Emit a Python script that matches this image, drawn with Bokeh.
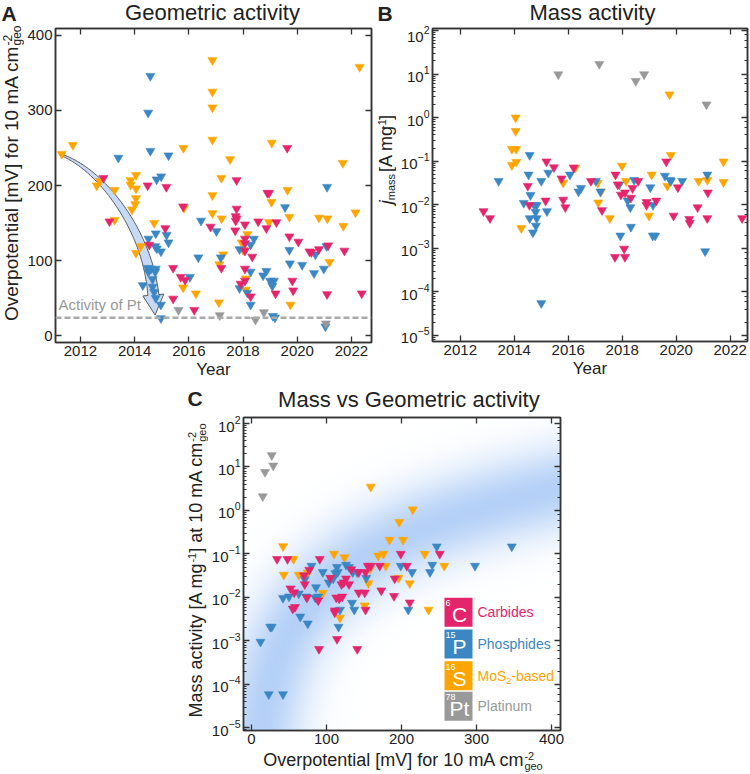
import numpy as np
from bokeh.plotting import figure
from bokeh.models import Label, Span, LinearAxis, LogAxis, FixedTicker, Spacer
from bokeh.layouts import column, row
from bokeh.embed import file_html
from bokeh.resources import INLINE

# ---------------------------------------------------------------- data
year_ticks = [2012, 2014, 2016, 2018, 2020, 2022]
eta_ticks = [0, 100, 200, 300, 400]
pt_activity_mv = 23.6

categories = ["Carbides", "Phosphides", "MoS2-based", "Platinum"]
cat_colors = ["#E4256C", "#3B87C4", "#FFA500", "#999999"]
cat_symbols = ["C", "P", "S", "Pt"]
cat_numbers = ["6", "15", "16", "78"]

# Panel A: year vs overpotential (mV)
a_carb_year = [2012.85, 2013.07, 2014.48, 2014.54, 2015.13, 2015.17, 2015.42, 2015.42, 2015.79, 2015.70,
               2015.86, 2016.20, 2016.80, 2017.20, 2017.76, 2017.76, 2017.73, 2017.76, 2017.73, 2017.71,
               2018.07, 2018.07, 2018.07, 2018.07, 2018.07, 2017.91, 2018.07, 2018.28, 2018.34, 2018.56,
               2018.86, 2018.90, 2018.96, 2019.23, 2019.20, 2019.63, 2019.71, 2019.82, 2019.85, 2020.04,
               2020.45, 2020.52, 2020.80, 2021.14, 2021.10, 2021.74, 2022.38]
a_carb_eta = [210, 152, 200, 121, 143, 198, 90, 49, 172, 78,
              74, 34, 145, 90, 207, 169, 159, 156, 153, 140,
              148, 129, 123, 113, 89, 69, 73, 52, 105, 152,
              143, 190, 190, 151, 56, 250, 132, 73, 60, 125,
              112, 111, 115, 120, 55, 113, 56]
a_phos_year = [2013.40, 2014.58, 2014.50, 2014.58, 2014.51, 2014.78, 2014.76, 2014.82, 2014.97, 2014.81,
               2014.98, 2015.25, 2015.18, 2015.25, 2014.30, 2014.48, 2014.60, 2014.78, 2014.51, 2014.76,
               2014.66, 2014.66, 2014.72, 2014.78, 2014.97, 2014.97, 2016.04, 2016.35, 2016.45, 2017.02,
               2017.18, 2017.87, 2017.87, 2018.16, 2018.28, 2018.28, 2018.40, 2018.28, 2018.86, 2018.74,
               2019.00, 2019.14, 2019.08, 2019.10, 2019.18, 2019.55, 2019.71, 2019.73, 2020.18, 2020.62,
               2020.67, 2020.98, 2021.04, 2021.08, 2021.10]
a_phos_eta = [237, 346, 297, 246, 129, 136, 119, 116, 112, 208,
              212, 240, 134, 124, 67, 90, 89, 89, 85, 85,
              75, 65, 58, 50, 41, 23, 78, 104, 153, 139,
              104, 115, 63, 57, 41, 121, 129, 85, 86, 80,
              73, 73, 66, 26, 24, 171, 114, 96, 94, 83,
              108, 89, 12, 119, 198]
a_mos2_year = [2011.31, 2011.72, 2012.60, 2012.72, 2013.26, 2013.26, 2013.85, 2013.85, 2014.05, 2014.05,
               2014.05, 2014.02, 2013.90, 2014.23, 2014.05, 2014.72, 2015.80, 2015.79, 2015.82, 2016.26,
               2016.87, 2016.87, 2016.87, 2016.87, 2016.87, 2016.87, 2017.11, 2017.20, 2017.21, 2017.12,
               2017.27, 2017.52, 2017.95, 2018.00, 2018.16, 2018.10, 2018.10, 2018.96, 2019.06, 2019.05,
               2019.64, 2019.71, 2019.75, 2020.80, 2021.11, 2021.19, 2021.68, 2021.70, 2022.15, 2022.30]
a_mos2_eta = [242, 254, 200, 206, 194, 154, 207, 201, 214, 196,
              183, 175, 168, 119, 110, 150, 250, 64, 170, 56,
              367, 325, 304, 261, 187, 163, 44, 210, 156, 95,
              108, 235, 124, 114, 135, 76, 61, 151, 257, 178,
              194, 158, 41, 157, 156, 98, 230, 146, 164, 358]
a_pt_year = [2015.62, 2017.14, 2018.46, 2018.77, 2021.06]
a_pt_eta = [34, 27, 21, 31, 16]

# Panel B: year vs mass activity (A/mg)
b_carb_year = [2012.86, 2013.10, 2014.50, 2014.56, 2015.19, 2015.16, 2015.47, 2015.75, 2015.81, 2015.89,
               2016.20, 2016.84, 2017.25, 2017.75, 2017.83, 2017.73, 2017.95, 2018.10, 2018.07, 2018.10,
               2018.32, 2018.38, 2018.59, 2018.90, 2018.90, 2019.26, 2019.63, 2019.90, 2020.06, 2020.48,
               2020.50, 2020.79, 2021.17, 2021.15, 2022.44]
b_carb_jmass = [0.0071, 0.0049, 0.027, 0.0098, 0.098, 0.0124, 0.072, 0.040, 0.013, 0.0087,
                0.071, 0.035, 0.0075, 0.049, 0.029, 0.00063, 0.017, 0.019, 0.00098, 0.00063,
                0.0145, 0.024, 0.035, 0.0115, 0.0098, 0.0124, 0.098, 0.0056, 0.025, 0.0047,
                0.0038, 0.0087, 0.019, 0.0049, 0.0049]
b_phos_year = [2013.42, 2014.35, 2014.57, 2014.53, 2014.60, 2014.57, 2014.69, 2014.74, 2014.83, 2014.79,
               2014.83, 2014.80, 2015.00, 2015.00, 2015.26, 2015.21, 2016.06, 2016.38, 2016.47, 2017.02,
               2017.19, 2017.89, 2017.93, 2018.20, 2018.30, 2018.32, 2018.44, 2019.04, 2019.14, 2019.13,
               2019.22, 2019.58, 2019.77, 2019.80, 2020.22, 2021.07, 2021.15]
b_phos_jmass = [0.035, 0.011, 0.138, 0.049, 0.0166, 0.0049, 0.0023, 0.0098, 0.0098, 0.0068,
                0.0049, 0.0033, 0.035, 0.000055, 0.054, 0.0071, 0.049, 0.020, 0.024, 0.035,
                0.020, 0.029, 0.00195, 0.0124, 0.0087, 0.0031, 0.037, 0.025, 0.0098, 0.00195,
                0.00195, 0.046, 0.037, 0.035, 0.035, 0.00085, 0.049]
b_mos2_year = [2013.91, 2013.91, 2014.07, 2014.05, 2014.05, 2014.07, 2014.26, 2015.81, 2016.26, 2017.09,
               2017.11, 2017.21, 2017.54, 2017.99, 2018.14, 2018.99, 2019.09, 2019.67, 2019.75, 2019.80,
               2020.83, 2021.15, 2021.75, 2021.75]
b_mos2_jmass = [0.19, 0.081, 0.19, 1.0, 0.49, 0.096, 0.0029, 0.032, 0.071, 0.032,
                0.0112, 0.020, 0.0049, 0.078, 0.035, 0.0056, 0.049, 0.027, 3.4, 0.138,
                0.035, 0.037, 0.098, 0.033]
b_pt_year = [2015.63, 2017.15, 2018.50, 2018.81, 2021.12]
b_pt_jmass = [9.8, 17.0, 6.9, 9.8, 2.0]

# Panel C: overpotential (mV) vs mass activity (A/mg)
c_carb_eta = [34, 48, 91, 199, 207, 251, 77, 70, 52, 57,
              71, 55, 58, 74, 89, 105, 113, 117, 120, 121,
              123, 126, 130, 133, 143, 143, 151, 152, 155, 159,
              152, 173, 171, 190, 191, 211, 111, 111, 114, 90, 141]
c_carb_jmass = [0.076, 0.076, 0.076, 0.10, 0.053, 0.10, 0.043, 0.032, 0.016, 0.013,
                0.020, 0.0055, 0.0060, 0.0099, 0.0085, 0.028, 0.0099, 0.0094, 0.020, 0.0104,
                0.022, 0.027, 0.020, 0.044, 0.038, 0.0129, 0.0129, 0.038, 0.053, 0.053,
                0.0052, 0.0144, 0.053, 0.0107, 0.027, 0.0076, 0.0050, 0.0045, 0.0011, 0.00065, 0.00065]
c_phos_eta = [347, 247, 298, 241, 238, 214, 209, 199, 114, 115,
              126, 130, 135, 112, 95, 80, 71, 86, 85, 89,
              50, 42, 63, 73, 103, 109, 118, 116, 134, 137,
              141, 153, 65, 75, 25, 27, 12, 23, 42]
c_phos_jmass = [0.148, 0.148, 0.053, 0.056, 0.038, 0.038, 0.0052, 0.053, 0.050, 0.038,
                0.056, 0.050, 0.038, 0.036, 0.038, 0.053, 0.026, 0.017, 0.0099, 0.0104,
                0.0104, 0.0097, 0.0122, 0.0104, 0.022, 0.027, 0.0052, 0.0021, 0.0075, 0.0052,
                0.038, 0.028, 0.0036, 0.0025, 0.0021, 0.0021, 0.00095, 0.000059, 0.000059]
c_mos2_eta = [159, 215, 197, 184, 202, 42, 110, 124, 56, 169,
              176, 231, 257, 179, 43, 63, 75, 158, 156, 211,
              196, 95, 151, 118, 236]
c_mos2_jmass = [3.5, 1.05, 0.54, 0.21, 0.21, 0.15, 0.10, 0.083, 0.076, 0.091,
                0.10, 0.10, 0.053, 0.053, 0.033, 0.033, 0.037, 0.045, 0.021, 0.021,
                0.028, 0.0126, 0.0065, 0.0034, 0.0052]
c_pt_eta = [15, 18, 27, 29]
c_pt_jmass = [2.1, 7.6, 18.6, 10.7]

# ---------------------------------------------------------------- style / geometry (page px)
FONT = "Liberation Sans"
INK = "#222222"
AXC = "#333333"

GA = dict(fl=53, ft=27, fw=316, fh=314, x0=2011.08, x1=2022.74, y0=-9.3, y1=409.3, log=False)
GB = dict(fl=430, ft=28, fw=315, fh=313, x0=2010.97, x1=2022.64, y0=-5.138, y1=2.046, log=True)
GC = dict(fl=241, ft=417, fw=317, fh=313, x0=-10.67, x1=412.0, y0=-5.06, y1=2.137, log=True)

CW = {' ': 278, '[': 278, ']': 278, '-': 333, 'A': 667, 'C': 722, 'G': 778, 'M': 833, 'O': 778,
      'P': 667, 'S': 667, 'V': 667, 'Y': 667, 'a': 556, 'b': 556, 'c': 500, 'd': 556, 'e': 556,
      'f': 278, 'g': 556, 'h': 556, 'i': 222, 'j': 222, 'l': 222, 'm': 833, 'n': 556, 'o': 556,
      'p': 556, 'r': 333, 's': 500, 't': 278, 'u': 556, 'v': 500, 'y': 500}
MID = 0.35  # em-box middle above the alphabetic baseline


def tw(s, size):
    return sum(CW.get(ch, 556) for ch in s) / 1000.0 * size


def s2d(g, px, py):
    x = g["x0"] + (px - g["fl"]) / g["fw"] * (g["x1"] - g["x0"])
    y = g["y1"] - (py - g["ft"]) / g["fh"] * (g["y1"] - g["y0"])
    return float(x), float(10 ** y if g["log"] else y)


def d2s(g, x, y):
    yy = np.log10(y) if g["log"] else y
    px = g["fl"] + (x - g["x0"]) / (g["x1"] - g["x0"]) * g["fw"]
    py = g["ft"] + (g["y1"] - yy) / (g["y1"] - g["y0"]) * g["fh"]
    return px, py


def style_axis(ax, show, linear):
    ax.axis_line_color = AXC
    ax.axis_line_width = 1.5
    ax.major_tick_line_color = AXC
    ax.major_tick_line_width = 1.3
    ax.major_tick_in = 6
    ax.major_tick_out = 0
    if linear:
        ax.minor_tick_line_color = None
    else:
        ax.minor_tick_line_color = AXC
        ax.minor_tick_in = 3
        ax.minor_tick_out = 0
    ax.major_label_text_font = FONT
    if show:
        ax.major_label_text_color = INK
        ax.major_label_text_font_size = "15px"
        ax.major_label_standoff = 3
    else:
        ax.major_label_text_color = None
        ax.major_label_text_font_size = "1px"
        ax.major_label_standoff = 0


def make_fig(g, L, R, T, B, xticks=None, yticks=None):
    yr = (10 ** g["y0"], 10 ** g["y1"]) if g["log"] else (g["y0"], g["y1"])
    p = figure(frame_width=g["fw"], frame_height=g["fh"], x_range=(g["x0"], g["x1"]), y_range=yr,
               y_axis_type="log" if g["log"] else "linear",
               min_border_left=L, min_border_right=R, min_border_top=T, min_border_bottom=B,
               output_backend="svg", toolbar_location=None,
               background_fill_color="white", border_fill_color="white")
    p.title.visible = False
    p.grid.visible = False
    p.outline_line_color = AXC
    p.outline_line_width = 1.5
    p.below[0].ticker = FixedTicker(ticks=xticks)
    style_axis(p.below[0], True, True)
    if yticks is not None:
        p.left[0].ticker = FixedTicker(ticks=yticks)
    style_axis(p.left[0], True, not g["log"])
    top = LinearAxis(ticker=FixedTicker(ticks=xticks))
    style_axis(top, False, True)
    p.add_layout(top, "above")
    right = LogAxis() if g["log"] else LinearAxis(ticker=FixedTicker(ticks=yticks))
    style_axis(right, False, not g["log"])
    p.add_layout(right, "right")
    return p


def carrier(w, h, ox, oy):
    c = figure(width=w, height=h, x_range=(0, w), y_range=(0, h), min_border=0,
               output_backend="svg", toolbar_location=None,
               x_axis_location=None, y_axis_location=None,
               background_fill_color="white", border_fill_color="white")
    c.title.visible = False
    c.grid.visible = False
    c.outline_line_color = None
    return c, dict(fl=ox, ft=oy, fw=w, fh=h, x0=0, x1=w, y0=0, y1=h, log=False)


def txt(p, g, px, py, text, size, color=INK, vertical=False, align="left", style="normal"):
    # (px, py): point on the alphabetic baseline, page pixels
    if vertical:
        px = px - MID * size
    else:
        py = py - MID * size
    x, y = s2d(g, px, py)
    p.add_layout(Label(x=x, y=y, text=text, text_font=FONT, text_font_size=f"{int(round(size))}px",
                       text_color=color, text_font_style=style, angle=(np.pi / 2 if vertical else 0.0),
                       text_align=align, text_baseline="middle"))


def compound(p, g, base, center, pieces, vertical=False, color=INK):
    total = sum(tw(t, s) for t, s, sh, st, adv in pieces if adv)
    start = center - total / 2 if not vertical else center + total / 2
    a = 0.0
    for t, s, sh, st, adv in pieces:
        if vertical:
            txt(p, g, base - sh, start - a, t, s, color, vertical=True, style=st)
        else:
            txt(p, g, start + a, base - sh, t, s, color, style=st)
        if adv:
            a += tw(t, s)


def with_scripts(p, g, base, junction, main, size, sup, sub, ssize, vertical=False, color=INK):
    # main text ends at the junction; super- and subscript start there
    if vertical:
        txt(p, g, base, junction, main, size, color, vertical=True, align="right")
        txt(p, g, base - 7, junction, sup, ssize, color, vertical=True)
        txt(p, g, base + 3, junction, sub, ssize, color, vertical=True)
    else:
        txt(p, g, junction, base, main, size, color, align="right")
        txt(p, g, junction, base - 7, sup, ssize, color)
        txt(p, g, junction, base + 3, sub, ssize, color)


def tri(p, xs, ys, color):
    p.scatter(xs, ys, marker="inverted_triangle", size=9, fill_color=color, line_color=color, line_width=0.6)


def year_label(p):
    ax = p.below[0]
    ax.axis_label = "Year"
    ax.axis_label_text_font = FONT
    ax.axis_label_text_font_size = "17px"
    ax.axis_label_text_font_style = "normal"
    ax.axis_label_text_color = INK
    ax.axis_label_standoff = 1


# ---------------------------------------------------------------- left strip of panel A
cA, gA = carrier(24, 384, 0, 0)
txt(cA, gA, 1, 20, "A", 21, INK, style="bold")
with_scripts(cA, gA, 18, 45, "Overpotential [mV] for 10 mA cm", 19, "-2", "geo", 12, vertical=True)

# ---------------------------------------------------------------- top strip (titles)
cTop, gTop = carrier(726, 25, 24, 0)
txt(cTop, gTop, 212, 20, "Geometric activity", 22, INK, align="center")
txt(cTop, gTop, 377, 20, "B", 21, INK, style="bold")
txt(cTop, gTop, 592, 20, "Mass activity", 22, INK, align="center")

# ---------------------------------------------------------------- panel A
pA = make_fig(GA, 29, 3, 2, 43, year_ticks, eta_ticks)
year_label(pA)

# curved guide arrow (annotation)
ARROW = [(2011.35, 240.0), (2012.82, 219.0), (2014.48, 139.0), (2014.69, 54.0)]
P = [np.array(d2s(GA, x, y)) for x, y in ARROW]
t = np.linspace(0, 1, 80)[:, None]
Bz = (1 - t) ** 3 * P[0] + 3 * (1 - t) ** 2 * t * P[1] + 3 * (1 - t) * t ** 2 * P[2] + t ** 3 * P[3]
dB = 3 * (1 - t) ** 2 * (P[1] - P[0]) + 6 * (1 - t) * t * (P[2] - P[1]) + 3 * t ** 2 * (P[3] - P[2])
tang = dB / np.linalg.norm(dB, axis=1)[:, None]
nrm = np.column_stack([-tang[:, 1], tang[:, 0]])
hw = (1.5 + (11.0 - 1.5) * t[:, 0] ** 0.9) / 2
left = Bz + nrm * hw[:, None]
right = Bz - nrm * hw[:, None]
d_end, n_end = tang[-1], nrm[-1]
poly = np.vstack([left, P[3] + n_end * 10.5, P[3] + d_end * 20, P[3] - n_end * 10.5, right[::-1]])
arrow_pts = [s2d(GA, q[0], q[1]) for q in poly]
pA.patch([q[0] for q in arrow_pts], [q[1] for q in arrow_pts],
         fill_color="#C6DAF5", line_color="#5A5A5A", line_width=1)

pA.add_layout(Span(location=pt_activity_mv, dimension="width", line_color="#AAAAAA",
                   line_width=2.5, line_dash="6 3"))
txt(pA, GA, 56, 308, "Activity of Pt", 15, "#999999")

tri(pA, a_mos2_year, a_mos2_eta, cat_colors[2])
tri(pA, a_phos_year, a_phos_eta, cat_colors[1])
tri(pA, a_carb_year, a_carb_eta, cat_colors[0])
tri(pA, a_pt_year, a_pt_eta, cat_colors[3])

# ---------------------------------------------------------------- panel B
pB = make_fig(GB, 36, 4, 3, 43, year_ticks, None)
year_label(pB)
tri(pB, b_mos2_year, b_mos2_jmass, cat_colors[2])
tri(pB, b_phos_year, b_phos_jmass, cat_colors[1])
tri(pB, b_carb_year, b_carb_jmass, cat_colors[0])
tri(pB, b_pt_year, b_pt_jmass, cat_colors[3])

cB, gB = carrier(22, 359, 372, 25)
B_BASE, B_J = 390.0, 222.0
txt(cB, gB, B_BASE, B_J, "j", 18, INK, vertical=True, align="right", style="italic")
txt(cB, gB, B_BASE + 2, B_J, "mass", 11, INK, vertical=True)
j2 = B_J - 1.12 * tw("mass", 11) - 3
txt(cB, gB, B_BASE, j2, "[A mg", 18, INK, vertical=True)
j3 = j2 - 1.05 * tw("[A mg", 18)
txt(cB, gB, B_BASE - 7, j3, "-1", 11, INK, vertical=True)
txt(cB, gB, B_BASE, j3 - 1.05 * tw("-1", 11), "]", 18, INK, vertical=True)

# ---------------------------------------------------------------- panel C
pC = make_fig(GC, 33, 10, 2, 19, eta_ticks, None)

# blue guide band (background decoration)
nx, ny = GC["fw"], GC["fh"]
X, Y = np.meshgrid(np.arange(nx) + 0.5, np.arange(ny) + 0.5)
cx = np.linspace(1.0, 430.0, 400)
cly = 0.47 + 3.65 * np.log10(cx / 400.0)
cpx = (cx - GC["x0"]) / (GC["x1"] - GC["x0"]) * nx
cpy = (cly - GC["y0"]) / (GC["y1"] - GC["y0"]) * ny
d2 = np.full(X.shape, np.inf)
for a_, b_ in zip(cpx, cpy):
    d2 = np.minimum(d2, (X - a_) ** 2 + (Y - b_) ** 2)
inten = np.exp(-d2 / (2 * 30.0 ** 2))
img = np.zeros((ny, nx), dtype=np.uint32)
view = img.view(dtype=np.uint8).reshape((ny, nx, 4))
view[..., 0] = 120
view[..., 1] = 170
view[..., 2] = 240
view[..., 3] = (inten * 0.55 * 255).astype(np.uint8)
pC.image_rgba(image=[img], x=GC["x0"], y=float(10 ** GC["y0"]), dw=GC["x1"] - GC["x0"],
              dh=float(10 ** GC["y1"] - 10 ** GC["y0"]))

tri(pC, c_mos2_eta, c_mos2_jmass, cat_colors[2])
tri(pC, c_phos_eta, c_phos_jmass, cat_colors[1])
tri(pC, c_carb_eta, c_carb_jmass, cat_colors[0])
tri(pC, c_pt_eta, c_pt_jmass, cat_colors[3])

# legend (periodic-table tiles)
LEG_X = 276.0
LEG_LOGY = [-2.34, -3.07, -3.80, -4.50]
pC.rect(x=[LEG_X] * 4, y=[float(10 ** v) for v in LEG_LOGY], width=28, height=29,
        width_units="screen", height_units="screen", fill_color=cat_colors, line_color=None)
for i, lv in enumerate(LEG_LOGY):
    cxp, cyp = d2s(GC, LEG_X, 10 ** lv)
    txt(pC, GC, cxp + 1, cyp + 10, cat_symbols[i], 21, "white", align="center")
    txt(pC, GC, cxp - 13, cyp - 6, cat_numbers[i], 9, "white")
    if categories[i] == "MoS2-based":
        compound(pC, GC, cyp + 5, cxp + 19 + (tw("MoS", 14) + tw("2", 9) + tw("-based", 14)) / 2,
                 [("MoS", 14, 0, "normal", True), ("2", 9, -3, "normal", True),
                  ("-based", 14, 0, "normal", True)], color=cat_colors[i])
    else:
        txt(pC, GC, cxp + 19, cyp + 5, categories[i], 14, cat_colors[i])

cCt, gCt = carrier(360, 31, 208, 384)
txt(cCt, gCt, 397, 407, "Mass vs Geometric activity", 22, INK, align="center")

cCb, gCb = carrier(360, 23, 208, 749)
with_scripts(cCb, gCb, 766, 529, "Overpotential [mV] for 10 mA cm", 18, "-2", "geo", 11)

cCl, gCl = carrier(27, 388, 181, 384)
txt(cCl, gCl, 187, 405, "C", 21, INK, style="bold")
compound(cCl, gCl, 202, 570, [("Mass activity [A mg", 18, 0, "normal", True),
                              ("-1", 11, 7, "normal", True),
                              ("] at 10 mA cm", 18, 0, "normal", True),
                              ("-2", 11, 7, "normal", False),
                              ("geo", 11, -3, "normal", True)], vertical=True)

layout = column(
    row(cA, column(cTop, row(pA, cB, pB))),
    row(Spacer(width=181, height=388), cCl, column(cCt, pC, cCb)),
)
open("out.html", "w").write(file_html(layout, INLINE))
